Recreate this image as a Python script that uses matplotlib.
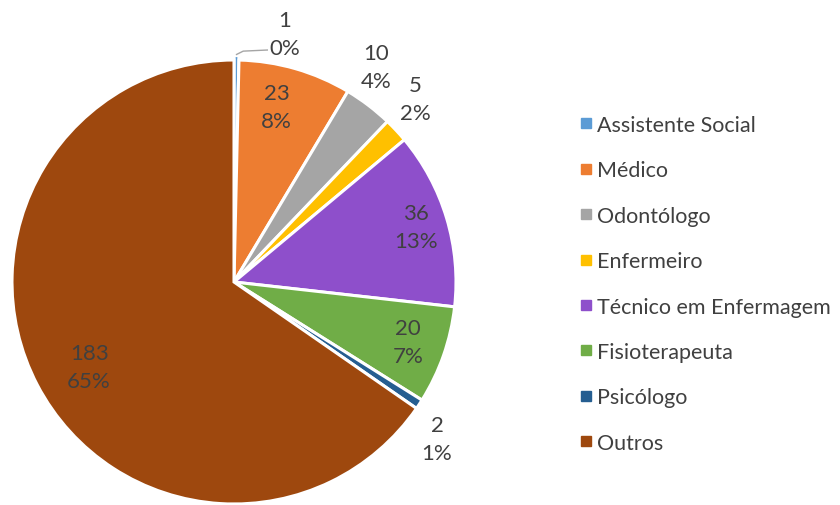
import matplotlib
matplotlib.use("Agg")
import matplotlib.pyplot as plt
from matplotlib.lines import Line2D
import numpy as np

categories = ["Assistente Social", "Médico", "Odontólogo", "Enfermeiro",
              "Técnico em Enfermagem", "Fisioterapeuta", "Psicólogo", "Outros"]
values = [1, 23, 10, 5, 36, 20, 2, 183]
colors = ["#5B9BD5", "#ED7D31", "#A5A5A5", "#FFC000",
          "#8E4FCB", "#70AD47", "#255E91", "#9E480E"]

FONT = "Lato"
TXT = "#404040"

fig = plt.figure(figsize=(8.4, 5.06), dpi=100)
ax = fig.add_axes([12/840, 1/506, 444/840, 444/506])
explode = [0.02, 0, 0, 0, 0, 0, 0, 0]
wedges, _ = ax.pie(values, colors=colors, startangle=90, counterclock=False,
                   explode=explode, radius=1.0,
                   wedgeprops=dict(edgecolor="white", linewidth=2.2))
ax.set_xlim(-1, 1)
ax.set_ylim(-1, 1)
ax.set_aspect("equal")
ax.axis("off")

total = sum(values)
# label placement: (radius, angle offset in degrees clockwise)
place = [(1.14, 11), (0.81, -2.3), (1.16, -3.9), (1.16, -2.2),
         (0.856, 0), (0.83, -0.4), (1.156, 4.3), (0.757, -2.8)]
cum = 0
for i, v in enumerate(values):
    mid = (cum + v / 2) / total * 360
    cum += v
    r, off = place[i]
    ang = np.deg2rad(90 - (mid + off))
    x, y = r * np.cos(ang), r * np.sin(ang)
    pct = f"{round(v / total * 100):.0f}%"
    ax.text(x, y, f"{v}\n{pct}", ha="center", va="center", fontsize=16,
            family=FONT, color=TXT, linespacing=1.5, clip_on=False)

# leader line for the tiny slice
mid0 = values[0] / 2 / total * 360
a0 = np.deg2rad(90 - mid0)
x0, y0 = 1.02 * np.cos(a0), 1.02 * np.sin(a0)
ax.plot([x0, x0 + 0.03, 0.15], [y0 + 0.005, y0 + 0.02, y0 + 0.025], color="#A5A5A5",
        lw=1, clip_on=False)

handles = [Line2D([0], [0], marker="s", linestyle="", markersize=6.5,
                  markerfacecolor=c, markeredgecolor=c) for c in colors]
fig.legend(handles, categories, loc="upper left", bbox_to_anchor=(580/840, 1 - 116/506),
           frameon=False, prop=dict(family=FONT, size=15.5), labelcolor=TXT,
           handlelength=0.6, handletextpad=0.2, labelspacing=1.18, borderpad=0,
           borderaxespad=0)

fig.savefig("out.png", dpi=100, facecolor="white")
